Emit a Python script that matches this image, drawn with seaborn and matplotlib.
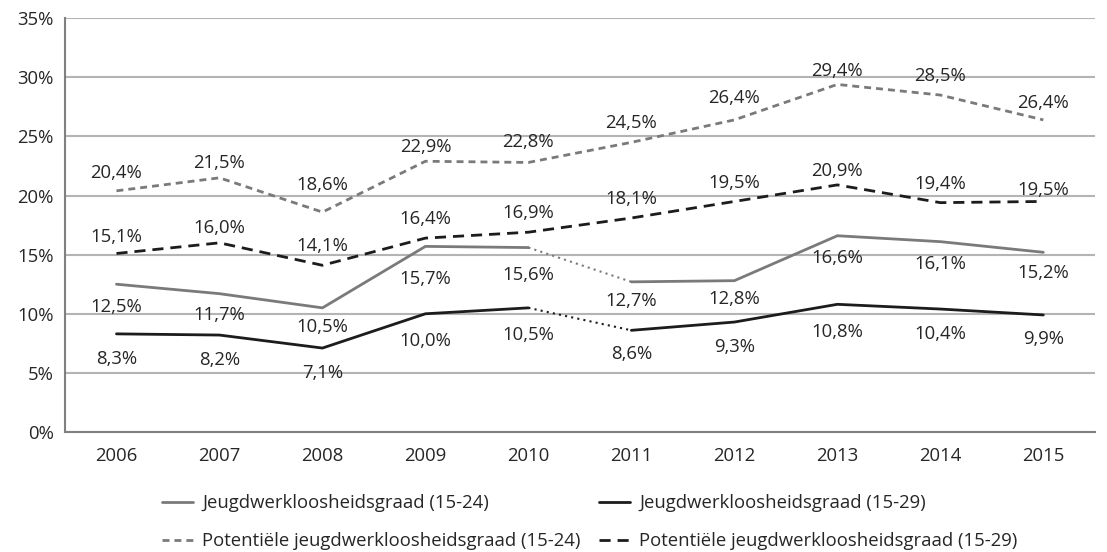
import numpy as np
import pandas as pd
import matplotlib
matplotlib.use("Agg")
import matplotlib.pyplot as plt
from matplotlib.lines import Line2D
import seaborn as sns

# data
years = [2006, 2007, 2008, 2009, 2010, 2011, 2012, 2013, 2014, 2015]
jwg_1524 = [12.5, 11.7, 10.5, 15.7, 15.6, 12.7, 12.8, 16.6, 16.1, 15.2]
jwg_1529 = [8.3, 8.2, 7.1, 10.0, 10.5, 8.6, 9.3, 10.8, 10.4, 9.9]
pot_1524 = [20.4, 21.5, 18.6, 22.9, 22.8, 24.5, 26.4, 29.4, 28.5, 26.4]
pot_1529 = [15.1, 16.0, 14.1, 16.4, 16.9, 18.1, 19.5, 20.9, 19.4, 19.5]

# where the value labels sit (data units)
lab_1524 = [10.74, 10.08, 9.02, 13.13, 13.47, 11.22, 11.44, 14.88, 14.40, 13.64]
lab_1529 = [6.31, 6.23, 5.18, 7.84, 8.39, 6.74, 7.35, 8.62, 8.48, 8.00]
lab_p1524 = [22.09, 22.93, 21.02, 24.26, 24.74, 26.31, 28.40, 30.74, 30.26, 28.00]
lab_p1529 = [16.65, 17.41, 15.89, 18.15, 18.71, 19.89, 21.24, 22.23, 21.16, 20.68]

names = ["Jeugdwerkloosheidsgraad (15-24)", "Jeugdwerkloosheidsgraad (15-29)",
         "Potentiële jeugdwerkloosheidsgraad (15-24)", "Potentiële jeugdwerkloosheidsgraad (15-29)"]

df = pd.DataFrame({"jaar": years, "j1524": jwg_1524, "j1529": jwg_1529,
                   "p1524": pot_1524, "p1529": pot_1529})

sns.set_style("white")
plt.rcParams["font.family"] = ["Open Sans", "DejaVu Sans"]

GREY = "#7a7a7a"
BLACK = "#1c1c1c"
TXT = "#262626"
LW = 2.0
FS = 13.3

fig = plt.figure(figsize=(11.07, 5.52), dpi=100)
ax = fig.add_axes([0.0587, 0.2174, 0.9303, 0.7496])

# solid series: break between 2010 and 2011 drawn dotted
pre = df[df.jaar <= 2010]
mid = df[(df.jaar >= 2010) & (df.jaar <= 2011)]
post = df[df.jaar >= 2011]
for col, c in [("j1524", GREY), ("j1529", BLACK)]:
    sns.lineplot(data=pre, x="jaar", y=col, ax=ax, color=c, linewidth=LW)
    sns.lineplot(data=mid, x="jaar", y=col, ax=ax, color=c, linewidth=1.5, linestyle=(0, (1, 2)))
    sns.lineplot(data=post, x="jaar", y=col, ax=ax, color=c, linewidth=LW)

sns.lineplot(data=df, x="jaar", y="p1524", ax=ax, color=GREY, linewidth=LW, linestyle=(0, (2.5, 1.8)))
sns.lineplot(data=df, x="jaar", y="p1529", ax=ax, color=BLACK, linewidth=LW, linestyle=(0, (4, 2.5)))

# value labels
for vals, labs in [(jwg_1524, lab_1524), (jwg_1529, lab_1529),
                   (pot_1524, lab_p1524), (pot_1529, lab_p1529)]:
    for x, v, ly in zip(years, vals, labs):
        ax.text(x, ly, f"{v:.1f}%".replace(".", ","), ha="center", va="center_baseline",
                fontsize=FS, color=TXT)

ax.set_xlim(2005.5, 2015.5)
ax.set_ylim(0, 35)
ax.set_yticks(np.arange(0, 36, 5))
ax.set_yticklabels([f"{t}%" for t in range(0, 36, 5)])
ax.set_xticks(years)
ax.set_xticklabels([str(y) for y in years])
ax.set_xticks(np.arange(2005.5, 2016, 1), minor=True)
ax.tick_params(axis="x", which="major", length=0, pad=11, labelsize=FS, labelcolor=TXT)
ax.tick_params(axis="x", which="minor", length=5, width=1.3, color="#808080", direction="out")
ax.tick_params(axis="y", length=5, width=1.3, color="#808080", direction="out", pad=3,
               labelsize=FS, labelcolor=TXT)
ax.yaxis.grid(True, color="#b4b4b4", linewidth=1.5)
ax.set_axisbelow(True)
ax.set_xlabel("")
ax.set_ylabel("")
for s in ["top", "right"]:
    ax.spines[s].set_visible(False)
for s in ["left", "bottom"]:
    ax.spines[s].set_color("#808080")
    ax.spines[s].set_linewidth(1.5)

handles = [
    Line2D([], [], color=GREY, linewidth=LW),
    Line2D([], [], color=GREY, linewidth=LW, linestyle=(0, (2.5, 1.8))),
    Line2D([], [], color=BLACK, linewidth=LW),
    Line2D([], [], color=BLACK, linewidth=LW, linestyle=(0, (4, 2.5))),
]
labels = [names[0], names[2], names[1], names[3]]
fig.legend(handles, labels, ncol=2, loc="upper left", bbox_to_anchor=(0.1463, 0.105),
           frameon=False, fontsize=FS, handlelength=1.68, handletextpad=0.49,
           columnspacing=1.0, labelspacing=1.08, borderpad=0, borderaxespad=0,
           labelcolor=TXT)

fig.savefig("out.png", dpi=100)
